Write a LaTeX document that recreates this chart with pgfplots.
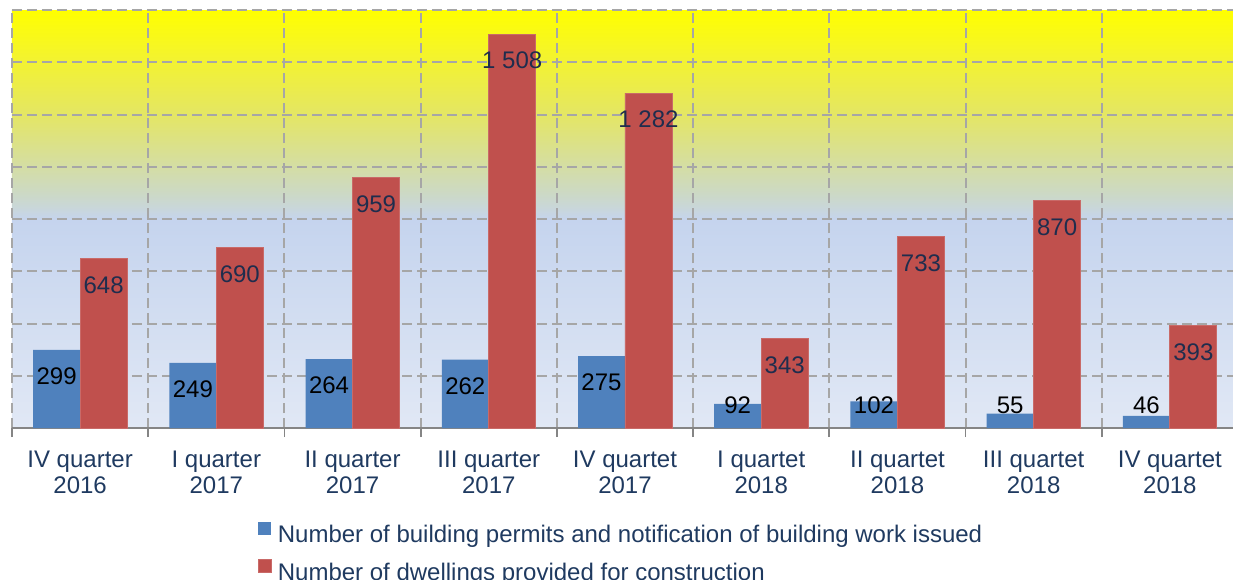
\documentclass[border=0pt]{standalone}
\usepackage{pgfplots}
\pgfplotsset{compat=1.18}
\usepackage{fontspec}
\setmainfont{Liberation Sans}
\definecolor{bgA}{HTML}{E1E8F5}
\definecolor{bgB}{HTML}{C5D4EE}
\definecolor{bgB2}{HTML}{C8D6DE}
\definecolor{bgC}{HTML}{CCD9C6}
\definecolor{bgD}{HTML}{E4E664}
\definecolor{bgE}{HTML}{F2F233}
\definecolor{bgF}{HTML}{FFFF00}
\definecolor{barblue}{HTML}{4F81BD}
\definecolor{barred}{HTML}{C0504D}
\definecolor{navy}{HTML}{1F3A60}
\definecolor{rednavy}{HTML}{1F2D4D}
\definecolor{gridgray}{HTML}{A6A6A6}
\pgfdeclareverticalshading{bgshade}{100bp}{color(0bp)=(bgA); color(25bp)=(bgA); color(50bp)=(bgB); color(51bp)=(bgB2); color(53bp)=(bgC); color(62.5bp)=(bgD); color(68.75bp)=(bgE); color(75bp)=(bgF); color(100bp)=(bgF)}
\begin{document}
\begin{tikzpicture}
\useasboundingbox (-6pt,-75.5pt) rectangle (610.5pt,214pt);
\clip (-6pt,-75.5pt) rectangle (610.5pt,214pt);
\begin{axis}[
  at={(0pt,0pt)}, anchor=south west,
  scale only axis, width=613pt, height=209pt,
  xmin=-0.5, xmax=8.5, ymin=0, ymax=1600,
  ybar=0pt, bar width=0.345,
  axis background/.style={shading=bgshade},
  xtick={0,...,8},
  xticklabels={{IV quarter\\2016},{I quarter\\2017},{II quarter\\2017},{III quarter\\2017},{IV quartet\\2017},{I quartet\\2018},{II quartet\\2018},{III quartet\\2018},{IV quartet\\2018}},
  minor xtick={-0.5,0.5,...,8.5},
  ytick={0,200,...,1600}, yticklabels={},
  ymajorgrids, xminorgrids,
  major grid style={gridgray, dash pattern=on 5pt off 2.5pt, line width=1pt},
  minor grid style={gridgray, dash pattern=on 5pt off 2.5pt, line width=1pt},
  axis x line*=bottom, axis y line*=left,
  y axis line style={draw=none},
  x axis line style={draw=gridgray!80!black, line width=1pt},
  major x tick style={draw=none},
  minor x tick style={gridgray!80!black, line width=0.9pt},
  ytick style={draw=none},
  minor tick length=4.5pt,
  tick align=outside,
  xticklabel style={font=\fontsize{12}{13}\selectfont, text=navy, align=center, inner sep=0pt, yshift=-7pt},
  /pgf/number format/assume math mode=true,
  nodes near coords={\pgfmathprintnumber[1000 sep={\ }]{\pgfplotspointmeta}},
  visualization depends on={rawy \as \myrawy},
  every node near coord/.append style={anchor=center, inner sep=0pt, font=\fontsize{12}{12.5}\selectfont, yshift={-min(13.25,(\myrawy-88)/7.665)*1pt}},
  legend style={draw=none, fill=none, at={(axis description cs:0.2007,-0.2245)}, anchor=north west, inner sep=0pt, outer sep=0pt, row sep=6pt, column sep=3pt, font=\fontsize{12}{12.5}\selectfont, text=navy, nodes={inner sep=0pt, text height=9pt, text depth=2.5pt}},
  legend cell align=left,
  legend image code/.code={\fill[#1] (0pt,0.5pt) rectangle (6.5pt,7pt);},
]
\addplot[fill=barblue, draw=none, every node near coord/.append style={text=black}] coordinates {
(0,299) (1,249) (2,264) (3,262) (4,275) (5,92) (6,102) (7,55) (8,46)};
\addplot[fill=barred, draw=barred!85!white, line width=0.4pt, every node near coord/.append style={text=rednavy}] coordinates {
(0,648) (1,690) (2,959) (3,1508) (4,1282) (5,343) (6,733) (7,870) (8,393)};
\legend{Number of building permits and notification of building work issued, Number of dwellings provided for construction}
\end{axis}
\end{tikzpicture}
\end{document}
